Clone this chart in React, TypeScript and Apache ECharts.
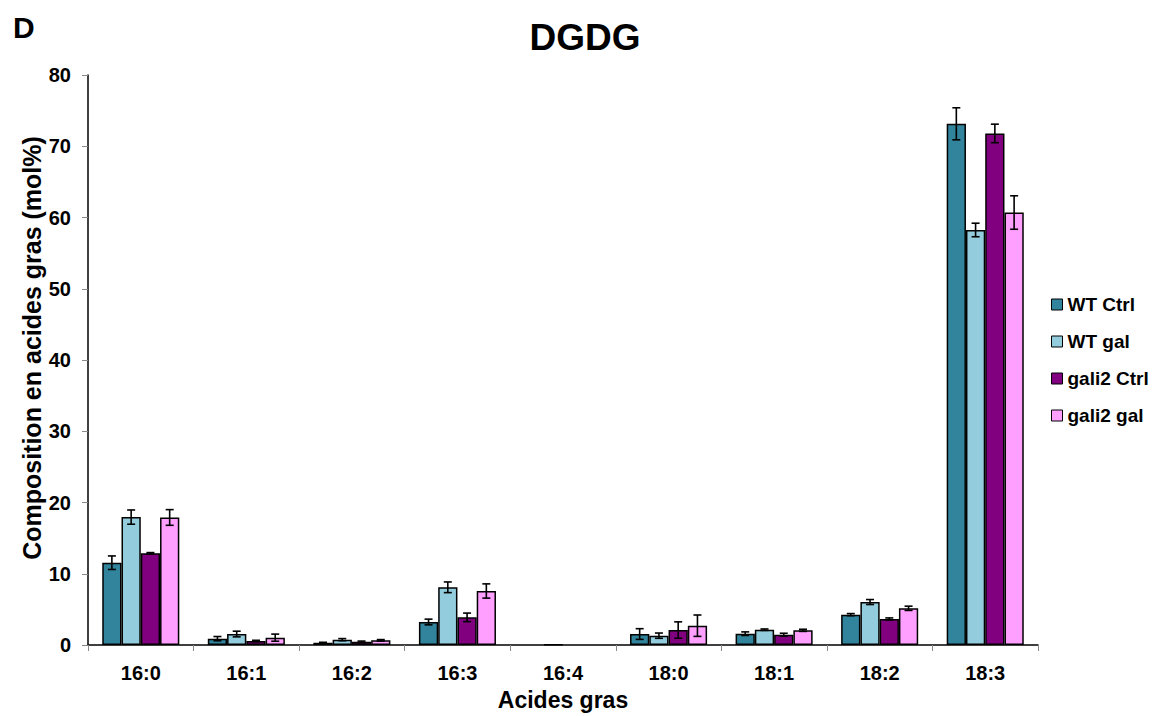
import React, { useEffect, useRef } from "react";
import * as echarts from "echarts";

const categories = ["16:0", "16:1", "16:2", "16:3", "16:4", "18:0", "18:1", "18:2", "18:3"];
const seriesNames = ["WT Ctrl", "WT gal", "gali2 Ctrl", "gali2 gal"];
const seriesColors = ["#31849B", "#93CDDD", "#800080", "#FF9FFF"];

const wtCtrl = [11.55, 0.89, 0.33, 3.23, 0, 1.54, 1.59, 4.26, 73.15];
const wtGal = [17.95, 1.54, 0.75, 8.1, 0.05, 1.31, 2.15, 6.03, 58.25];
const gali2Ctrl = [12.87, 0.56, 0.45, 3.88, 0, 2.1, 1.45, 3.65, 71.8];
const gali2Gal = [17.9, 1.03, 0.66, 7.58, 0, 2.71, 2.06, 5.15, 60.7];

const wtCtrlErr = [0.95, 0.3, 0.05, 0.4, 0, 0.75, 0.25, 0.15, 2.25];
const wtGalErr = [1.0, 0.4, 0.15, 0.75, 0, 0.37, 0.1, 0.35, 0.95];
const gali2CtrlErr = [0.1, 0.1, 0.1, 0.6, 0, 1.15, 0.2, 0.15, 1.3];
const gali2GalErr = [1.1, 0.5, 0.1, 1.0, 0, 1.5, 0.15, 0.3, 2.35];

const yTicks = { min: 0, max: 80, interval: 10 };
const yAxisName = "Composition en acides gras (mol%)";
const xAxisName = "Acides gras";

const allValues = [wtCtrl, wtGal, gali2Ctrl, gali2Gal];
const allErrs = [wtCtrlErr, wtGalErr, gali2CtrlErr, gali2GalErr];

const CAT_GAP = 0.27;
const FONT = "'Liberation Sans', Arial, sans-serif";

export default function App() {
  const ref = useRef<HTMLDivElement>(null);

  useEffect(() => {
    document.body.style.margin = "0";
    if (!ref.current) return;
    const chart = echarts.init(ref.current, null, { renderer: "svg" });

    const errData: number[][] = [];
    allValues.forEach((vals, s) => {
      vals.forEach((v, c) => {
        if (allErrs[s][c] > 0) errData.push([c, v, allErrs[s][c], s]);
      });
    });

    const barSeries = seriesNames.map((name, i) => ({
      name,
      type: "bar",
      data: allValues[i].map((v) => (v === 0 ? "-" : v)),
      barGap: "0%",
      barCategoryGap: CAT_GAP * 100 + "%",
      itemStyle: { color: seriesColors[i], borderColor: "#000", borderWidth: 1.5 },
      z: 2,
    }));

    const errSeries = {
      type: "custom",
      name: "err",
      data: errData,
      encode: { x: 0, y: 1 },
      z: 5,
      silent: true,
      renderItem: (params: any, api: any) => {
        const c = api.value(0);
        const v = api.value(1);
        const e = api.value(2);
        const s = api.value(3);
        const bandW = api.size([1, 0])[0];
        const barW = (bandW * (1 - CAT_GAP)) / 4;
        const center = api.coord([c, v]);
        const x = center[0] + (s - 1.5) * barW;
        const top = api.coord([c, v + e])[1];
        const bot = api.coord([c, Math.max(v - e, 0)])[1];
        const cap = 4;
        const style = { stroke: "#000", lineWidth: 1.6 };
        return {
          type: "group",
          children: [
            { type: "line", shape: { x1: x, y1: top, x2: x, y2: bot }, style },
            { type: "line", shape: { x1: x - cap, y1: top, x2: x + cap, y2: top }, style },
            { type: "line", shape: { x1: x - cap, y1: bot, x2: x + cap, y2: bot }, style },
          ],
        };
      },
    };

    chart.setOption({
      animation: false,
      backgroundColor: "#fff",
      textStyle: { fontFamily: FONT },
      title: [
        {
          text: "DGDG",
          left: 580,
          top: 14,
          textAlign: "center",
          textStyle: { fontSize: 37, fontWeight: "bold", color: "#000", fontFamily: FONT },
        },
        {
          text: "D",
          left: 8,
          top: 7,
          textStyle: { fontSize: 30, fontWeight: "bold", color: "#000", fontFamily: FONT },
        },
      ],
      graphic: [
        {
          type: "text",
          x: 32,
          y: 348,
          rotation: Math.PI / 2,
          style: {
            text: yAxisName,
            fontSize: 25,
            fontWeight: "bold",
            fill: "#000",
            fontFamily: FONT,
            textAlign: "center",
            textVerticalAlign: "middle",
          },
        },
      ],
      legend: {
        data: seriesNames,
        orient: "vertical",
        left: 1051,
        top: 295,
        padding: 0,
        itemGap: 18,
        itemWidth: 11,
        itemHeight: 11,
        icon: "rect",
        textStyle: { fontSize: 19, fontWeight: "bold", color: "#000", fontFamily: FONT },
        itemStyle: { borderColor: "#000", borderWidth: 1 },
      },
      grid: { left: 88, right: 122, top: 75, bottom: 71, containLabel: false },
      xAxis: {
        type: "category",
        data: categories,
        name: xAxisName,
        nameLocation: "middle",
        nameGap: 43,
        nameTextStyle: { fontSize: 23, fontWeight: "bold", color: "#000", fontFamily: FONT },
        axisLine: { lineStyle: { color: "#000", width: 1.5 } },
        axisTick: { show: true, alignWithLabel: false, length: 6, lineStyle: { color: "#888" } },
        axisLabel: { fontSize: 20, fontWeight: "bold", color: "#000", margin: 18, fontFamily: FONT },
      },
      yAxis: {
        type: "value",
        min: yTicks.min,
        max: yTicks.max,
        interval: yTicks.interval,
        axisLine: { show: true, lineStyle: { color: "#000", width: 1.5 } },
        axisTick: { show: true, length: 6, lineStyle: { color: "#888" } },
        splitLine: { show: false },
        axisLabel: { fontSize: 20, fontWeight: "bold", color: "#000", margin: 17, fontFamily: FONT },
      },
      series: [...barSeries, errSeries],
    });

    return () => chart.dispose();
  }, []);

  return <div ref={ref} style={{ width: 1160, height: 716 }} />;
}
